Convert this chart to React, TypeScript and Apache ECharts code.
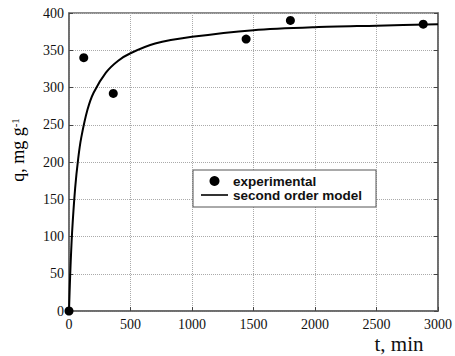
import React, { useEffect, useRef } from "react";
import * as echarts from "echarts";

const expT = [0, 120, 360, 1440, 1800, 2880];
const expQ = [0, 340, 292, 365, 390, 385];

const modelT = [0, 10, 25, 50, 75, 100, 150, 200, 300, 400, 500, 700, 1000, 1500, 2000, 2500, 3000];
const modelQ = [0, 50, 105, 165, 205, 233, 270, 293, 320, 336, 346, 359, 368, 377, 381, 383, 385];

const xTicks = [0, 500, 1000, 1500, 2000, 2500, 3000];
const yTicks = [0, 50, 100, 150, 200, 250, 300, 350, 400];

export default function App() {
  const ref = useRef<HTMLDivElement>(null);
  useEffect(() => {
    const chart = echarts.init(ref.current!, null, { renderer: "svg" });
    const serif = "'Liberation Serif', 'Times New Roman', serif";
    const axisCommon = {
      type: "value" as const,
      axisLine: { show: true, lineStyle: { color: "#666", width: 1.5 } },
      axisTick: { show: true, inside: true, length: 4, lineStyle: { color: "#444" } },
      splitLine: { show: true, lineStyle: { color: "#aaa", type: "dotted" as const, width: 1 } },
    };
    chart.setOption({
      animation: false,
      backgroundColor: "#fff",
      textStyle: { fontFamily: serif },
      grid: { left: 69, right: 12, top: 13, bottom: 45, show: true, borderColor: "#666", borderWidth: 1.5 },
      xAxis: {
        ...axisCommon,
        min: xTicks[0],
        max: xTicks[xTicks.length - 1],
        interval: 500,
        axisLabel: { fontFamily: serif, fontSize: 14, color: "#111", margin: 6, formatter: (v: number) => String(v) },
      },
      yAxis: [
        {
          ...axisCommon,
          min: yTicks[0],
          max: yTicks[yTicks.length - 1],
          interval: 50,
          axisLabel: { fontFamily: serif, fontSize: 14, color: "#111", margin: 5, formatter: (v: number) => String(v) },
        },
        {
          ...axisCommon,
          position: "right",
          min: yTicks[0],
          max: yTicks[yTicks.length - 1],
          interval: 50,
          splitLine: { show: false },
          axisLabel: { show: false },
        },
      ],
      legend: {
        left: 193,
        top: 170,
        orient: "vertical",
        padding: [4, 14, 5, 8],
        itemGap: 0,
        itemWidth: 27,
        itemHeight: 10,
        borderColor: "#555",
        borderWidth: 1,
        backgroundColor: "#fff",
        textStyle: { fontFamily: "Liberation Sans", fontWeight: "bold", fontSize: 13.5, color: "#111", lineHeight: 14 },
        data: [
          { name: "experimental", icon: "circle", itemStyle: { color: "#000", opacity: 1 } },
          { name: "second order model", icon: "path://M0,0h27v1.6h-27z", itemStyle: { color: "#000" } },
        ],
      },
      series: [
        {
          name: "second order model",
          type: "line",
          data: modelT.map((t, i) => [t, modelQ[i]]),
          smooth: 0.3,
          showSymbol: false,
          symbol: "none",
          lineStyle: { color: "#000", width: 2 },
          itemStyle: { color: "#000" },
          z: 2,
        },
        {
          name: "experimental",
          type: "scatter",
          data: expT.map((t, i) => [t, expQ[i]]),
          symbolSize: 9,
          itemStyle: { color: "#000", opacity: 1 },
          z: 3,
        },
      ],
      graphic: [
        {
          type: "text",
          x: 18,
          y: 150,
          rotation: Math.PI / 2,
          style: {
            text: "{a|q, mg g}{s|-1}",
            align: "center",
            verticalAlign: "middle",
            rich: {
              a: { fontFamily: serif, fontSize: 18, color: "#111" },
              s: { fontFamily: serif, fontSize: 11, color: "#111", verticalAlign: "top", lineHeight: 8 },
            },
          },
        },
        {
          type: "text",
          x: 399,
          y: 344,
          style: {
            text: "t, min",
            align: "center",
            verticalAlign: "middle",
            fontFamily: serif,
            fontSize: 21,
            fill: "#111",
          },
        },
      ],
    });
    return () => chart.dispose();
  }, []);
  return <div ref={ref} style={{ width: 455, height: 356, position: "absolute", left: 0, top: 0 }} />;
}
